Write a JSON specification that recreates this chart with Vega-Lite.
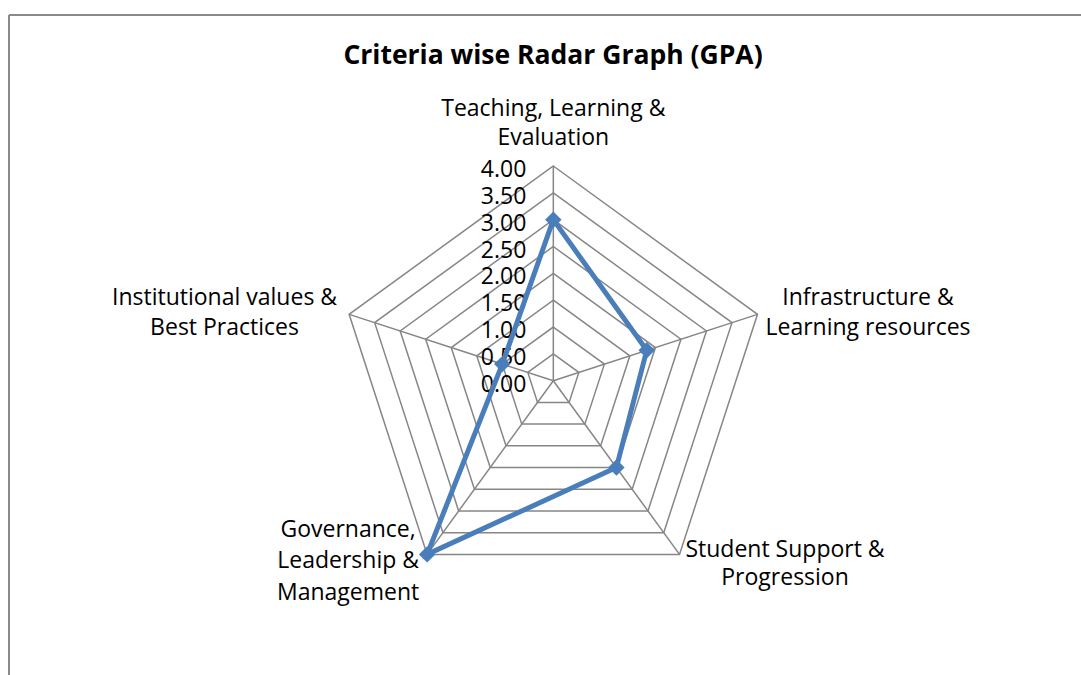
{
  "$schema": "https://vega.github.io/schema/vega-lite/v6.json",
  "width": 1072,
  "height": 660,
  "autosize": {"type": "none"},
  "padding": {"left": 9, "top": 15, "right": 0, "bottom": 0},
  "background": "white",
  "config": {"view": {"stroke": null}, "font": "Open Sans"},
  "title": {"text": "Criteria wise Radar Graph (GPA)", "fontSize": 26.5, "fontWeight": "bold", "font": "Open Sans", "color": "black", "anchor": "middle", "frame": "group", "offset": -50, "baseline": "alphabetic", "dx": 8, "dy": 26},
  "datasets": {
    "criteria": [
      {"criterion": "Teaching, Learning & Evaluation", "label": "Teaching, Learning &\nEvaluation", "idx": 0, "gpa": 3.0},
      {"criterion": "Infrastructure & Learning resources", "label": "Infrastructure &\nLearning resources", "idx": 1, "gpa": 1.83},
      {"criterion": "Student Support & Progression", "label": "Student Support &\nProgression", "idx": 2, "gpa": 2.0},
      {"criterion": "Governance, Leadership & Management", "label": "Governance,\nLeadership &\nManagement", "idx": 3, "gpa": 4.0},
      {"criterion": "Institutional values & Best Practices", "label": "Institutional values &\nBest Practices", "idx": 4, "gpa": 1.0}
    ],
    "rings": [
      {"level": 0.0, "idx": [0, 1, 2, 3, 4]},
      {"level": 0.5, "idx": [0, 1, 2, 3, 4]},
      {"level": 1.0, "idx": [0, 1, 2, 3, 4]},
      {"level": 1.5, "idx": [0, 1, 2, 3, 4]},
      {"level": 2.0, "idx": [0, 1, 2, 3, 4]},
      {"level": 2.5, "idx": [0, 1, 2, 3, 4]},
      {"level": 3.0, "idx": [0, 1, 2, 3, 4]},
      {"level": 3.5, "idx": [0, 1, 2, 3, 4]},
      {"level": 4.0, "idx": [0, 1, 2, 3, 4]}
    ]
  },
  "layer": [
    {
      "data": {"name": "criteria"},
      "mark": {"type": "rule", "color": "#8a8a8a", "strokeWidth": 2},
      "encoding": {
        "x": {"datum": -10.141, "type": "quantitative", "scale": {"domain": [-10.141, 9.831], "nice": false, "zero": false}, "axis": null}
      }
    },
    {
      "data": {"name": "criteria"},
      "mark": {"type": "rule", "color": "#8a8a8a", "strokeWidth": 1.5},
      "encoding": {
        "y": {"datum": 6.813, "type": "quantitative", "scale": {"domain": [-5.483, 6.813], "nice": false, "zero": false}, "axis": null}
      }
    },
    {
      "data": {"name": "rings"},
      "transform": [
        {"filter": "datum.level > 0"},
        {"flatten": ["idx"]},
        {"calculate": "datum.level * sin(datum.idx * 2 * PI / 5)", "as": "rx"},
        {"calculate": "datum.level * cos(datum.idx * 2 * PI / 5)", "as": "ry"}
      ],
      "mark": {"type": "line", "interpolate": "linear-closed", "color": "#868686", "strokeWidth": 1.5},
      "encoding": {
        "x": {"field": "rx", "type": "quantitative", "scale": {"domain": [-10.141, 9.831], "nice": false, "zero": false}, "axis": null},
        "y": {"field": "ry", "type": "quantitative", "scale": {"domain": [-5.483, 6.813], "nice": false, "zero": false}, "axis": null},
        "detail": {"field": "level", "type": "nominal"},
        "order": {"field": "idx", "type": "quantitative"}
      }
    },
    {
      "data": {"name": "criteria"},
      "transform": [
        {"calculate": "4 * sin(datum.idx * 2 * PI / 5)", "as": "vx"},
        {"calculate": "4 * cos(datum.idx * 2 * PI / 5)", "as": "vy"}
      ],
      "mark": {"type": "rule", "color": "#868686", "strokeWidth": 1.5},
      "encoding": {
        "x": {"field": "vx", "type": "quantitative", "scale": {"domain": [-10.141, 9.831], "nice": false, "zero": false}, "axis": null},
        "y": {"field": "vy", "type": "quantitative", "scale": {"domain": [-5.483, 6.813], "nice": false, "zero": false}, "axis": null},
        "x2": {"datum": 0},
        "y2": {"datum": 0}
      }
    },
    {
      "data": {"name": "rings"},
      "mark": {"type": "text", "align": "right", "baseline": "middle", "dx": -27, "dy": 4, "fontSize": 23, "font": "Open Sans", "color": "black"},
      "encoding": {
        "x": {"datum": 0, "type": "quantitative", "scale": {"domain": [-10.141, 9.831], "nice": false, "zero": false}, "axis": null},
        "y": {"field": "level", "type": "quantitative", "scale": {"domain": [-5.483, 6.813], "nice": false, "zero": false}, "axis": null},
        "text": {"field": "level", "type": "quantitative", "format": ".2f"}
      }
    },
    {
      "data": {"name": "criteria"},
      "transform": [
        {"calculate": "datum.gpa * sin(datum.idx * 2 * PI / 5)", "as": "px"},
        {"calculate": "datum.gpa * cos(datum.idx * 2 * PI / 5)", "as": "py"}
      ],
      "layer": [
        {
          "mark": {"type": "line", "interpolate": "linear-closed", "color": "#4a7ebb", "strokeWidth": 5},
          "encoding": {
            "x": {"field": "px", "type": "quantitative", "scale": {"domain": [-10.141, 9.831], "nice": false, "zero": false}, "axis": null},
            "y": {"field": "py", "type": "quantitative", "scale": {"domain": [-5.483, 6.813], "nice": false, "zero": false}, "axis": null},
            "order": {"field": "idx", "type": "quantitative"}
          }
        },
        {
          "mark": {"type": "point", "shape": "diamond", "filled": true, "size": 270, "color": "#4a7ebb", "opacity": 1},
          "encoding": {
            "x": {"field": "px", "type": "quantitative", "scale": {"domain": [-10.141, 9.831], "nice": false, "zero": false}, "axis": null},
            "y": {"field": "py", "type": "quantitative", "scale": {"domain": [-5.483, 6.813], "nice": false, "zero": false}, "axis": null}
          }
        }
      ]
    },
    {
      "data": {"name": "criteria"},
      "transform": [
        {"calculate": "4 * sin(datum.idx * 2 * PI / 5)", "as": "vx"},
        {"calculate": "4 * cos(datum.idx * 2 * PI / 5)", "as": "vy"}
      ],
      "encoding": {
        "x": {"field": "vx", "type": "quantitative", "scale": {"domain": [-10.141, 9.831], "nice": false, "zero": false}, "axis": null},
        "y": {"field": "vy", "type": "quantitative", "scale": {"domain": [-5.483, 6.813], "nice": false, "zero": false}, "axis": null},
        "text": {"field": "label", "type": "nominal"}
      },
      "layer": [
        {"transform": [{"filter": "datum.idx == 0"}], "mark": {"type": "text", "align": "center", "baseline": "alphabetic", "lineBreak": "\n", "lineHeight": 29.5, "dx": 0, "dy": -50, "fontSize": 23, "font": "Open Sans", "color": "black"}},
        {"transform": [{"filter": "datum.idx == 1"}], "mark": {"type": "text", "align": "center", "baseline": "alphabetic", "lineBreak": "\n", "lineHeight": 30, "dx": 110.5, "dy": -9.4, "fontSize": 23, "font": "Open Sans", "color": "black"}},
        {"transform": [{"filter": "datum.idx == 2"}], "mark": {"type": "text", "align": "center", "baseline": "alphabetic", "lineBreak": "\n", "lineHeight": 28.5, "dx": 105.5, "dy": 2.6, "fontSize": 23, "font": "Open Sans", "color": "black"}},
        {"transform": [{"filter": "datum.idx == 3"}], "mark": {"type": "text", "align": "center", "baseline": "alphabetic", "lineBreak": "\n", "lineHeight": 31.5, "dx": -79, "dy": -17.4, "fontSize": 23, "font": "Open Sans", "color": "black"}},
        {"transform": [{"filter": "datum.idx == 4"}], "mark": {"type": "text", "align": "center", "baseline": "alphabetic", "lineBreak": "\n", "lineHeight": 30, "dx": -124.6, "dy": -9.4, "fontSize": 23, "font": "Open Sans", "color": "black"}}
      ]
    }
  ]
}
